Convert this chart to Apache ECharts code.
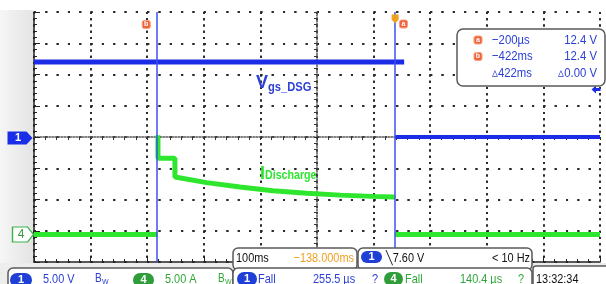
<!DOCTYPE html>
<html>
<head>
<meta charset="utf-8">
<script src="https://cdn.jsdelivr.net/npm/echarts@6/dist/echarts.min.js"></script>
<style>
html, body { margin: 0; padding: 0; background: #fff; }
#scope { width: 606px; height: 284px; }
</style>
</head>
<body>
<div id="scope"></div>
<script>
// time in ms from trigger, ch1 = Vgs_DSG in volts, ch4 = discharge current in amps
var timeRange = [-638, 362];
var ch1Range = [-20, 20];
var ch4Range = [-4.4, 35.6];

var ch1High = [[-638, 12.0], [16, 12.0]];
var ch1Low = [[0, 0], [362, 0]];
var ch4Before = [[-638, 0], [-420, 0]];
var ch4Pulse = [[-419, 15.9], [-419, 12.2], [-389, 12.2], [-389, 9.2], [-333, 8.3], [-274, 7.6],
    [-216, 7.0], [-156, 6.6], [-97, 6.3], [-39, 6.1], [-4, 6.0], [0, 6.0]];
var ch4After = [[0, 0], [362, 0]];

var cursorA = -0.2;
var cursorB = -422;
var trigLevel = 7.6;

var cursorRows = [['a', '−200µs', '12.4 V'], ['b', '−422ms', '12.4 V'], ['', '▵422ms', '▵0.00 V']];

var BLUE = '#1c2be6';
var GREEN = '#2ee62e';
var TXT_BLUE = '#2c40d6';
var TXT_GREEN = '#2fa83a';
var ORANGE = '#f0a020';
var FONT = '"Liberation Sans", Arial, sans-serif';

// the scope uses a condensed face, squeeze the text horizontally
function txt(x, y, s, color, size, opt) {
    opt = opt || {};
    return {
        type: 'text', z: 110, x: x, y: y,
        scaleX: opt.sx || 0.84,
        style: {
            text: s, fill: color, fontSize: size || 13, fontFamily: FONT,
            fontWeight: opt.bold ? 'bold' : 'normal',
            align: opt.align || 'left', verticalAlign: 'middle'
        }
    };
}
function box(x, y, w, h, r) {
    return {
        type: 'rect', z: 100, shape: { x: x, y: y, width: w, height: h, r: r },
        style: { fill: '#fff', stroke: '#5a5a5a', lineWidth: 1.5 }
    };
}
function badge(x, y, w, h, fill, label) {
    return [
        { type: 'rect', z: 105, shape: { x: x, y: y, width: w, height: h, r: h / 2 }, style: { fill: fill } },
        txt(x + w / 2, y + h / 2, label, '#fff', 11, { align: 'center', bold: true, sx: 1 })
    ];
}
function bw(x, y, color) {
    return [txt(x, y, 'B', color, 12), txt(x + 7, y + 3, 'W', color, 7, { sx: 1 })];
}

var graphic = [
    {
        type: 'rect', z: 0, shape: { x: 0, y: 10, width: 33, height: 253 },
        style: { fill: new echarts.graphic.LinearGradient(0, 0, 1, 0, [
            { offset: 0, color: '#f6f6f6' }, { offset: 1, color: '#e4e4e4' }]) }
    },
    { type: 'rect', z: 50, shape: { x: 0, y: 263, width: 606, height: 21 }, style: { fill: '#ededed' } },
    // signal labels
    txt(256, 83, 'V', TXT_BLUE, 19, { bold: true, sx: 0.95 }),
    txt(268, 87, 'gs_DSG', TXT_BLUE, 13, { bold: true, sx: 0.86 }),
    txt(260, 174, 'I', GREEN, 18, { bold: true, sx: 1 }),
    txt(265, 175, 'Discharge', GREEN, 13, { bold: true, sx: 0.82 }),
    // cursor readout
    box(457, 29, 148, 57, 6),
    // time base / trigger
    box(233, 248, 124, 22, 5),
    box(358, 248, 174, 22, 5),
    txt(236, 258, '100ms', '#111', 13),
    txt(354, 258, '−138.000ms', ORANGE, 13, { align: 'right' }),
    txt(386, 258, '╲7.60 V', '#111', 13),
    txt(530, 258, '< 10 Hz', '#111', 13, { align: 'right' }),
    // bottom status row
    box(8, 268, 225, 26, 5),
    box(233, 268, 299, 26, 5),
    box(533, 266, 90, 26, 3),
    txt(43, 279, '5.00 V', TXT_BLUE, 13),
    txt(165, 279, '5.00 A', TXT_GREEN, 13),
    txt(258, 279, 'Fall', TXT_BLUE, 13),
    txt(313, 279, '255.5 µs', TXT_BLUE, 13),
    txt(372, 279, '?', TXT_BLUE, 13),
    txt(405, 279, 'Fall', TXT_GREEN, 13),
    txt(460, 279, '140.4 µs', TXT_GREEN, 13),
    txt(518, 279, '?', TXT_GREEN, 13),
    txt(536, 279, '13:32:34', '#111', 13)
];
graphic = graphic
    .concat(badge(10, 273, 22, 14, '#1f3fd6', '1'))
    .concat(badge(133, 273, 21, 14, '#2f9e3a', '4'))
    .concat(badge(237, 272, 20, 14, '#1f3fd6', '1'))
    .concat(badge(384, 272, 19, 14, '#2f9e3a', '4'))
    .concat(badge(361, 251, 21, 12, '#1f3fd6', '1'))
    .concat(bw(95, 279, TXT_BLUE))
    .concat(bw(218, 279, TXT_GREEN));

cursorRows.forEach(function (row, i) {
    var y = 40 + i * 16.5;
    if (row[0]) {
        graphic.push({ type: 'rect', z: 105, shape: { x: 474, y: y - 4, width: 8, height: 8, r: 2 },
            style: { fill: '#f2623a', stroke: '#f7a080', lineWidth: 1 } });
        graphic.push(txt(478, y, row[0], '#fff', 7, { align: 'center', bold: true, sx: 1 }));
    }
    graphic.push(txt(492, y, row[1], TXT_BLUE, 13.5));
    graphic.push(txt(597, y, row[2], TXT_BLUE, 13.5, { align: 'right' }));
});

// grid of dots: vertical lines dotted every 1/5 of a vertical division and vice versa
var dotsV = { show: true, lineStyle: { color: '#2a2a2a', width: 2, type: [2, 4.25] } };
var dotsH = { show: true, lineStyle: { color: '#2a2a2a', width: 2, type: [2, 9.32] } };

var divAxisX = { type: 'value', min: -5, max: 5, interval: 1, axisLabel: { show: false } };
var divAxisY = { type: 'value', min: -4, max: 4, interval: 1, axisLabel: { show: false } };

var chart = echarts.init(document.getElementById('scope'));
chart.setOption({
    animation: false,
    backgroundColor: '#fff',
    grid: { left: 34, top: 12, width: 566, height: 250 },
    xAxis: [
        Object.assign({}, divAxisX, {
            position: 'bottom',
            axisLine: { onZero: false, lineStyle: { color: '#222', width: 1.5 } },
            axisTick: { show: true, inside: true, length: 6, lineStyle: { color: '#222' } },
            minorTick: { show: true, splitNumber: 5, length: 3, lineStyle: { color: '#222' } },
            splitLine: dotsV
        }),
        Object.assign({}, divAxisX, {
            axisLine: { onZero: true, onZeroAxisIndex: 0, lineStyle: { color: '#555', width: 1.5, type: [1.5, 1.5] } },
            axisTick: { show: true, inside: true, length: 3, lineStyle: { color: '#333' } },
            minorTick: { show: true, splitNumber: 5, length: 3, lineStyle: { color: '#333' } },
            splitLine: dotsV
        }),
        { type: 'value', min: timeRange[0], max: timeRange[1], show: false }
    ],
    yAxis: [
        Object.assign({}, divAxisY, {
            position: 'left',
            axisLine: { onZero: false, lineStyle: { color: '#222', width: 1.5 } },
            axisTick: { show: true, inside: true, length: 6, lineStyle: { color: '#222' } },
            minorTick: { show: true, splitNumber: 5, length: 3, lineStyle: { color: '#222' } },
            splitLine: dotsH
        }),
        Object.assign({}, divAxisY, {
            axisLine: { onZero: true, onZeroAxisIndex: 0, lineStyle: { color: '#555', width: 1.5, type: [1.5, 1.5] } },
            axisTick: { show: true, inside: true, length: 3, lineStyle: { color: '#333' } },
            minorTick: { show: true, splitNumber: 5, length: 3, lineStyle: { color: '#333' } },
            splitLine: dotsH
        }),
        { type: 'value', min: ch1Range[0], max: ch1Range[1], show: false },
        { type: 'value', min: ch4Range[0], max: ch4Range[1], show: false }
    ],
    graphic: graphic,
    series: [
        {
            type: 'line', xAxisIndex: 2, yAxisIndex: 3, data: ch4Before, symbol: 'none',
            lineStyle: { color: GREEN, width: 5 },
            markPoint: {
                silent: true,
                data: [{
                    coord: [timeRange[0], 0], symbol: 'path://M0,0 L15,0 L21,7 L15,14 L0,14 Z',
                    symbolSize: [21, 15], symbolOffset: [-11, 0],
                    itemStyle: { color: '#fff', borderColor: '#3cb44b', borderWidth: 1.2 },
                    label: { show: true, formatter: '4', color: '#3a9a3a', fontSize: 12, offset: [-2, 0] }
                }]
            }
        },
        {
            type: 'line', xAxisIndex: 2, yAxisIndex: 3, data: ch4Pulse, symbol: 'none',
            lineStyle: { color: GREEN, width: 5 }
        },
        {
            type: 'line', xAxisIndex: 2, yAxisIndex: 3, data: ch4After, symbol: 'none',
            lineStyle: { color: GREEN, width: 5 }
        },
        {
            type: 'line', xAxisIndex: 2, yAxisIndex: 2, data: ch1High, symbol: 'none',
            lineStyle: { color: BLUE, width: 5 },
            markPoint: {
                silent: true,
                data: [
                    {
                        coord: [cursorB, ch1Range[1]], symbol: 'roundRect', symbolSize: 8, symbolOffset: [-10, 12.5],
                        itemStyle: { color: '#f2623a', borderColor: '#f7a080', borderWidth: 1 },
                        label: { show: true, formatter: 'b', color: '#fff', fontSize: 7, fontWeight: 'bold' }
                    },
                    {
                        coord: [cursorA, ch1Range[1]], symbol: 'roundRect', symbolSize: 8, symbolOffset: [8.5, 12],
                        itemStyle: { color: '#f2623a', borderColor: '#f7a080', borderWidth: 1 },
                        label: { show: true, formatter: 'a', color: '#fff', fontSize: 7, fontWeight: 'bold' }
                    },
                    {
                        coord: [0, ch1Range[1]], symbol: 'path://M0,0 L10,0 L10,6 L5,11 L0,6 Z',
                        symbolSize: [7, 9], symbolOffset: [0, 7],
                        itemStyle: { color: ORANGE },
                        label: { show: false }
                    }
                ]
            }
        },
        {
            type: 'line', xAxisIndex: 2, yAxisIndex: 2, data: ch1Low, symbol: 'none',
            lineStyle: { color: BLUE, width: 4 },
            markLine: {
                silent: true, symbol: 'none', label: { show: false },
                lineStyle: { color: '#3d50ee', width: 1.5, type: 'solid' },
                data: [{ xAxis: cursorA }, { xAxis: cursorB }]
            },
            markPoint: {
                silent: true,
                data: [
                    {
                        coord: [timeRange[0], 0], symbol: 'path://M0,0 L19,0 L25,6.5 L19,13 L0,13 Z',
                        symbolSize: [25, 13], symbolOffset: [-14, 1],
                        itemStyle: { color: '#1a2ee8' },
                        label: { show: true, formatter: '1', color: '#fff', fontSize: 11, fontWeight: 'bold', offset: [-2, 0] }
                    },
                    {
                        coord: [timeRange[1], trigLevel], symbol: 'path://M0,5 L5,0 L5,3 L10,3 L10,7 L5,7 L5,10 Z',
                        symbolSize: [9, 8], symbolOffset: [-4, 0],
                        itemStyle: { color: BLUE },
                        label: { show: false }
                    }
                ]
            }
        }
    ]
});
</script>
</body>
</html>
